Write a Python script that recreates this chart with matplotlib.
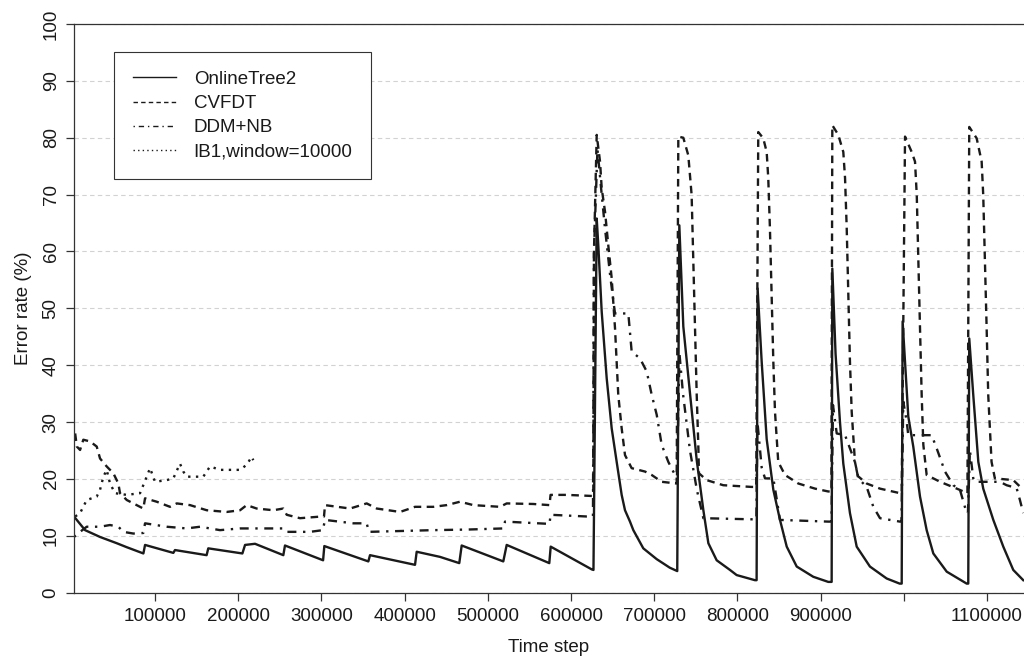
import matplotlib
matplotlib.use('Agg')
from matplotlib import pyplot as plt

# error rate (%) against time step
onlinetree_t = [2600, 15900, 33900, 54000, 66000, 86000, 88000, 122000, 124000, 162000,
                164000, 205000, 208200, 220200, 254200, 256200, 302000, 303500, 356400, 358400,
                412500, 414500, 442500, 465700, 468600, 518600, 522700, 573900, 575600, 624900,
                627000, 630900, 632800, 636900, 642900, 648900, 654900, 660900, 664900, 670900,
                674900, 686900, 703000, 718700, 727700, 730200, 735000, 743000, 751100, 759100,
                765100, 775100, 791100, 799100, 821100, 823100, 824300, 829200, 835200, 843200,
                851200, 859300, 871300, 891200, 909200, 913300, 914100, 918000, 923300, 927300,
                935300, 943400, 959300, 979400, 995000, 997500, 998600, 1005400, 1011400, 1019500,
                1027500, 1035500, 1051600, 1075600, 1077500, 1078700, 1083500, 1089600, 1095500, 1107600,
                1119600, 1131600, 1143600]
onlinetree_err = [13.4, 11.0, 9.8, 8.7, 8.0, 6.9, 8.4, 7.0, 7.5, 6.6,
                  7.8, 6.9, 8.4, 8.6, 6.6, 8.3, 5.7, 8.2, 5.5, 6.6,
                  4.9, 7.2, 6.3, 5.2, 8.3, 5.5, 8.4, 5.2, 8.1, 4.1,
                  4.0, 65.8, 61.1, 49.4, 37.7, 28.9, 23.0, 17.2, 14.5, 12.5,
                  11.0, 7.8, 5.9, 4.4, 3.8, 64.6, 46.8, 35.1, 23.3, 14.5,
                  8.7, 5.7, 4.0, 3.1, 2.2, 2.2, 53.5, 40.6, 27.0, 18.1,
                  12.8, 8.1, 4.6, 2.8, 1.9, 1.9, 57.0, 42.0, 30.0, 22.7,
                  14.0, 8.1, 4.6, 2.5, 1.6, 1.6, 47.7, 31.0, 25.7, 16.9,
                  11.0, 6.9, 3.7, 1.6, 1.6, 44.7, 34.8, 23.0, 18.3, 12.8,
                  8.1, 4.0, 2.2]

cvfdt_t = [4000, 6000, 9900, 13800, 21900, 29900, 33900, 41900, 49900, 55900,
           57900, 66000, 78000, 85900, 88000, 102000, 118000, 126100, 142100, 162100,
           186200, 202200, 210200, 222200, 242200, 254200, 258300, 274300, 300300, 303100,
           304300, 334400, 354400, 366500, 394500, 412500, 434500, 450600, 466600, 482600,
           514700, 522700, 554700, 574200, 575400, 594800, 626800, 627600, 630900, 634900,
           636900, 640900, 644800, 648900, 652900, 654900, 656800, 660900, 664900, 672900,
           689000, 697000, 709000, 727000, 729000, 735000, 741000, 745000, 747000, 749000,
           751100, 753000, 753800, 763000, 783000, 817200, 822600, 825100, 831100, 835200,
           837100, 839100, 841200, 843200, 845200, 849100, 857200, 873200, 893300, 909200,
           913000, 914100, 921300, 927300, 929400, 931400, 933300, 935300, 937400, 941300,
           944900, 955400, 971400, 995400, 997500, 1001500, 1009500, 1013500, 1015600, 1017500,
           1019500, 1021500, 1023500, 1027500, 1043600, 1063700, 1076500, 1078700, 1087600, 1093600,
           1095500, 1097600, 1099600, 1101500, 1105500, 1109500, 1131600, 1143600]
cvfdt_err = [28.0, 25.7, 25.1, 26.9, 26.6, 25.7, 23.6, 22.2, 21.0, 19.2,
             17.5, 16.3, 15.4, 14.8, 16.6, 16.0, 15.1, 15.7, 15.4, 14.5,
             14.2, 14.5, 15.4, 14.8, 14.5, 14.8, 13.7, 13.1, 13.4, 13.4,
             15.4, 14.8, 15.7, 14.8, 14.2, 15.1, 15.1, 15.4, 16.0, 15.4,
             15.1, 15.7, 15.6, 15.4, 17.2, 17.2, 17.0, 60.0, 80.5, 75.8,
             71.1, 67.0, 61.1, 55.3, 46.5, 40.6, 34.8, 28.9, 24.2, 21.9,
             21.3, 20.7, 19.5, 19.2, 80.2, 80.0, 76.9, 69.9, 58.2, 46.5,
             34.8, 26.0, 21.0, 19.8, 18.9, 18.6, 18.6, 81.0, 79.9, 77.5,
             72.9, 64.1, 52.3, 40.6, 31.8, 23.0, 20.7, 19.2, 18.3, 17.8,
             17.8, 82.2, 80.5, 77.5, 72.9, 64.1, 52.3, 40.6, 31.8, 23.0,
             20.5, 19.2, 18.3, 17.5, 17.5, 80.2, 77.5, 75.8, 69.9, 58.2,
             46.5, 34.8, 26.0, 20.7, 19.5, 18.3, 17.5, 81.9, 79.9, 75.8,
             69.9, 58.2, 46.5, 34.8, 23.0, 20.1, 19.8, 18.1]

ddm_t = [2600, 9900, 17900, 33900, 45900, 55900, 61900, 73900, 85900, 88000,
         114100, 138100, 154100, 178100, 202200, 254200, 258300, 286300, 301700, 304300,
         338300, 354400, 357200, 434500, 474600, 518600, 520700, 574200, 575400, 618900,
         626400, 627600, 631800, 636900, 640900, 646900, 650900, 652900, 668900, 672900,
         682900, 691000, 697000, 703000, 709000, 717000, 725000, 727400, 730400, 734600,
         743000, 751400, 759100, 819100, 822800, 824100, 829200, 833200, 843200, 847200,
         851200, 909200, 913100, 914900, 919400, 929400, 941300, 945300, 955400, 963400,
         971400, 995400, 997200, 999400, 1003500, 1005400, 1033500, 1039500, 1049500, 1059500,
         1067500, 1075600, 1077100, 1079500, 1083500, 1085500, 1115600, 1123600, 1135600, 1139600,
         1143600]
ddm_err = [9.8, 10.7, 11.6, 11.6, 11.9, 11.6, 10.7, 10.4, 10.5, 12.2,
           11.6, 11.3, 11.6, 11.0, 11.3, 11.3, 10.7, 10.7, 11.0, 12.8,
           12.2, 12.2, 10.7, 11.0, 11.1, 11.3, 12.5, 12.1, 13.7, 13.4,
           13.4, 60.0, 78.0, 70.0, 64.0, 56.0, 51.3, 49.1, 49.1, 42.4,
           41.2, 38.9, 34.8, 31.3, 26.0, 23.0, 20.7, 20.4, 42.0, 35.0,
           25.0, 18.0, 13.1, 12.9, 12.9, 30.0, 22.0, 20.1, 20.1, 16.5,
           12.8, 12.5, 12.5, 33.0, 28.0, 27.7, 23.0, 20.1, 18.6, 15.1,
           13.1, 12.5, 12.5, 33.6, 30.1, 27.7, 27.7, 25.4, 21.3, 18.9,
           18.1, 14.0, 14.0, 25.0, 20.1, 19.5, 19.5, 18.9, 18.4, 16.3,
           14.0]

ib1_t = [4000, 9900, 17900, 29900, 33900, 37900, 41900, 45900, 51900, 66000,
         82000, 90000, 94000, 100000, 114100, 122000, 130000, 134000, 138100, 158000,
         166100, 178100, 202200, 210200, 216200, 218100]
ib1_err = [13.4, 14.0, 16.3, 16.9, 18.1, 20.4, 21.6, 19.2, 17.5, 17.2,
           17.5, 20.4, 21.9, 19.5, 19.8, 20.1, 22.7, 21.3, 20.4, 20.4,
           22.2, 21.6, 21.6, 22.5, 23.9, 23.3]

xtick_vals = list(range(100000, 1100001, 100000))
xtick_labels = [str(v) if v != 1000000 else '' for v in xtick_vals]
ytick_vals = list(range(0, 101, 10))

plt.rcParams['font.family'] = ['Liberation Sans', 'DejaVu Sans']
FS = 13.5
INK = '#1a1a1a'
LW = 1.7

fig = plt.figure(figsize=(10.24, 6.56), dpi=100)
ax = fig.add_axes([74 / 1024, 63.3 / 656, 950 / 1024, 568.7 / 656])

ax.plot(onlinetree_t, onlinetree_err, color=INK, lw=LW, ls='-', label='OnlineTree2')
ax.plot(cvfdt_t, cvfdt_err, color=INK, lw=LW, ls=(0, (3.2, 2.3)), label='CVFDT')
ax.plot(ddm_t, ddm_err, color=INK, lw=LW, ls=(0, (1, 2.8, 3.8, 2.8)), label='DDM+NB')
ax.plot(ib1_t, ib1_err, color=INK, lw=LW, ls=(0, (1, 2.3)), label='IB1,window=10000')

ax.set_xlim(2600, 1144500)
ax.set_ylim(0, 100)

# light dashed horizontal grid
ax.set_axisbelow(True)
ax.yaxis.grid(True, color='#d2d2d2', ls=(0, (4, 3)), lw=0.8)

for side in ['left', 'bottom', 'top']:
    ax.spines[side].set_color('#333333')
    ax.spines[side].set_linewidth(0.9)
ax.spines['right'].set_visible(False)

ax.set_xticks(xtick_vals)
ax.set_xticklabels(xtick_labels)
ax.set_yticks(ytick_vals)
ax.set_yticklabels([str(v) for v in ytick_vals], rotation=90, va='center')
ax.tick_params(axis='both', direction='out', length=5.8, width=0.9, color='#333333',
               labelsize=FS, labelcolor=INK)
ax.tick_params(axis='x', pad=5.5)
ax.tick_params(axis='y', pad=4.5)

ax.set_xlabel('Time step', fontsize=FS, color=INK, labelpad=10)
ax.set_ylabel('Error rate (%)', fontsize=FS, color=INK, labelpad=8)

leg = ax.legend(loc='upper left', bbox_to_anchor=(114 / 1024, 1 - 52 / 656),
                bbox_transform=fig.transFigure, fancybox=False, framealpha=1,
                edgecolor='#333333', borderaxespad=0, borderpad=1.0,
                handlelength=2.3, handletextpad=0.95, labelspacing=0.38, fontsize=13.5)
leg.get_frame().set_linewidth(0.8)
for t in leg.get_texts():
    t.set_color(INK)
for l in leg.get_lines():
    l.set_linewidth(1.0)

fig.savefig('out.png', dpi=100)
